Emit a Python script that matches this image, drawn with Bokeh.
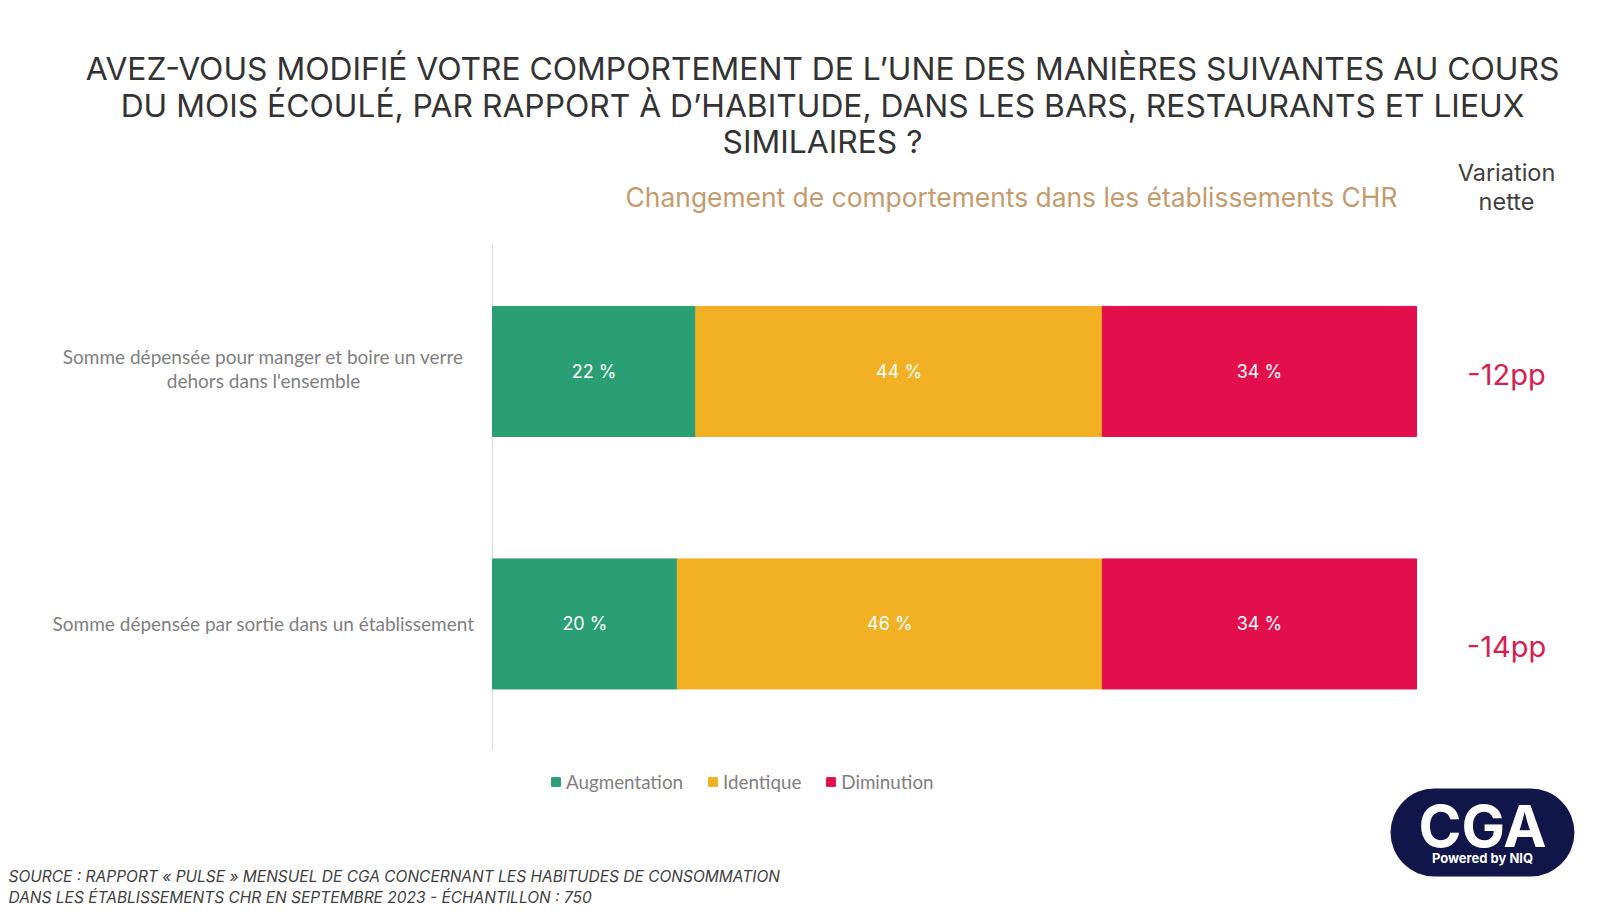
import numpy as np
from bokeh.plotting import figure
from bokeh.models import ColumnDataSource, Range1d, Label
from bokeh.core.properties import value
from bokeh.embed import file_html
from bokeh.resources import INLINE

# ---- data ----
categories = [
    "Somme dépensée pour manger et boire un verre\ndehors dans l'ensemble",
    "Somme dépensée par sortie dans un établissement",
]
augmentation = [22, 20]
identique = [44, 46]
diminution = [34, 34]
series_keys = ["augmentation", "identique", "diminution"]
series_names = ["Augmentation", "Identique", "Diminution"]
series_colors = ["#2a9f73", "#f2b124", "#e30e4c"]

title_lines = [
    "AVEZ-VOUS MODIFIÉ VOTRE COMPORTEMENT DE L’UNE DES MANIÈRES SUIVANTES AU COURS",
    "DU MOIS ÉCOULÉ, PAR RAPPORT À D’HABITUDE, DANS LES BARS, RESTAURANTS ET LIEUX",
    "SIMILAIRES ?",
]
subtitle = "Changement de comportements dans les établissements CHR"
net_header = ["Variation", "nette"]
source_lines = [
    "SOURCE : RAPPORT « PULSE » MENSUEL DE CGA CONCERNANT LES HABITUDES DE CONSOMMATION",
    "DANS LES ÉTABLISSEMENTS CHR EN SEPTEMBRE 2023 - ÉCHANTILLON : 750",
]

W, H = 1603, 905
FONT = "Inter"

# row positions: first category on top
ypos = list(np.arange(len(categories))[::-1].astype(float))

src = ColumnDataSource(dict(cat=categories, y=ypos, augmentation=augmentation,
                            identique=identique, diminution=diminution))

p = figure(width=W, height=H, output_backend="svg", toolbar_location=None,
           x_range=Range1d(-53.25, 120.24), y_range=Range1d(-1.115, 2.469),
           min_border=0)
p.outline_line_color = None
p.background_fill_color = "white"
p.border_fill_color = "white"
p.grid.visible = False
p.axis.visible = False

# vertical category axis line
p.segment(x0=[0], x1=[0], y0=[min(ypos) - 0.5], y1=[max(ypos) + 0.5],
          line_color="#d9d9d9", line_width=1)

p.hbar_stack(series_keys, y="y", height=0.515, color=series_colors,
             source=src, legend_label=series_names)

# category labels
p.text(x=[0] * len(categories), y=ypos, text=categories, x_offset=-229,
       y_offset=[-3, 0],
       text_align="center", text_baseline="middle", text_line_height=1.08,
       text_color="#808080", text_font=value("Lato"), text_font_size="19px")

# segment labels
vals = np.array([augmentation, identique, diminution], dtype=float)
starts = np.vstack([np.zeros(len(categories)), np.cumsum(vals, axis=0)[:-1]])
mids = starts + vals / 2
lx, ly, lt = [], [], []
for i in range(vals.shape[0]):
    for j in range(len(categories)):
        lx.append(mids[i, j]); ly.append(ypos[j]); lt.append(f"{int(vals[i, j])} %")
p.text(x=lx, y=ly, text=lt, text_align="center", text_baseline="middle",
       text_color="white", text_font=value(FONT), text_font_size="18px")

# net variation
totals = vals.sum(axis=0)
net = [a - d for a, d in zip(augmentation, diminution)]
p.text(x=list(totals), y=ypos, text=[f"{v}pp" for v in net],
       x_offset=90, y_offset=[3, 23], text_align="center", text_baseline="middle",
       text_color="#d6204f", text_font=value(FONT), text_font_size="29px")

# legend
lg = p.legend[0]
lg.orientation = "horizontal"
lg.location = (550, 112)
lg.background_fill_alpha = 0
lg.border_line_color = None
lg.glyph_width = 11
lg.glyph_height = 11
lg.label_standoff = 5
lg.spacing = 24
lg.padding = 0
lg.margin = 0
lg.label_text_font = "Lato"
lg.label_text_font_size = "18.8px"
lg.label_text_color = "#808080"

def lab(x, y, text, **kw):
    p.add_layout(Label(x=x, y=y, x_units="screen", y_units="screen", text=text, **kw))

for k, t in enumerate(title_lines):
    lab(822, 837 - 36.5 * k, t, text_align="center", text_baseline="alphabetic",
        text_font=FONT, text_font_size="31.8px", text_color="#333333")

lab(1011, 708.5, subtitle, text_align="center", text_baseline="alphabetic",
    text_font=FONT, text_font_size="26.4px", text_color="#c59b6d")

for k, t in enumerate(net_header):
    lab(1506, 733 - 28.5 * k, t, text_align="center", text_baseline="alphabetic",
        text_font=FONT, text_font_size="23.5px", text_color="#404040")

for k, t in enumerate(source_lines):
    lab(8, 29 - 20.5 * k, t, text_align="left", text_baseline="alphabetic",
        text_font=FONT, text_font_size="15.5px", text_font_style="italic",
        text_color="#404040")

# logo
lab(1482, 73, "CGA", text_align="center", text_baseline="middle",
    text_font=FONT, text_font_size="58px", text_font_style="bold",
    text_color="white", background_fill_color="#10154a",
    padding=dict(left=28, right=28, top=2, bottom=16), border_radius=44)
lab(1482, 48, "Powered by NIQ", text_align="center", text_baseline="middle",
    text_font=FONT, text_font_size="13px", text_font_style="bold",
    text_color="white")

open("out.html", "w").write(file_html(p, INLINE))
